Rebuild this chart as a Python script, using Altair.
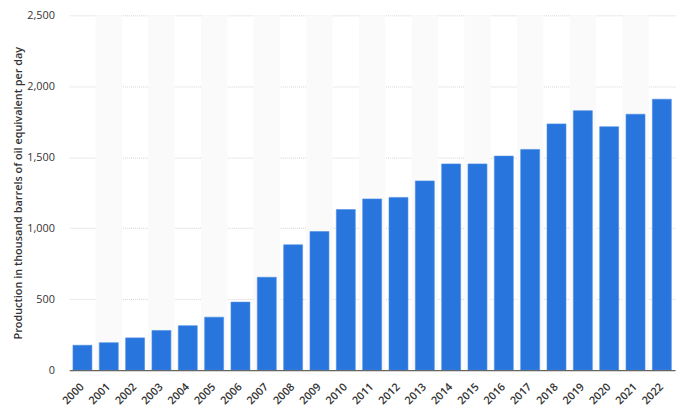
import altair as alt
import pandas as pd

years = [str(y) for y in range(2000, 2023)]
values = [175, 193, 227, 279, 313, 373, 479, 654, 883, 976, 1131, 1206, 1217,
          1333, 1453, 1453, 1508, 1555, 1735, 1828, 1715, 1803, 1909]

df = pd.DataFrame({"year": years, "value": values})
stripes = pd.DataFrame({"year": years[1::2]})

FONT = "Open Sans"
H = 359

xscale = alt.Scale(domain=years, paddingInner=0, paddingOuter=0)
yscale = alt.Scale(domain=[0, 2500], nice=False)

bg = alt.Chart(stripes).mark_rect(color="#fafafa").encode(
    x=alt.X("year:N", scale=xscale),
    y=alt.value(0),
    y2=alt.value(H),
)

bars = alt.Chart(df).mark_bar(
    color="#2876dd",
    stroke="#4a8ce6",
    strokeWidth=0.6,
    width=alt.RelativeBandSize(0.72),
).encode(
    x=alt.X(
        "year:N",
        scale=xscale,
        title=None,
        axis=alt.Axis(
            labelAngle=-45,
            labelAlign="right",
            labelBaseline="middle",
            labelFont=FONT,
            labelFontSize=11,
            labelFontWeight=600,
            labelColor="#333333",
            labelPadding=15,
            ticks=False,
            domain=True,
            domainColor="#666666",
            domainWidth=1.2,
            grid=False,
        ),
    ),
    y=alt.Y(
        "value:Q",
        scale=yscale,
        title="Production in thousand barrels of oil equivalent per day",
        axis=alt.Axis(
            values=[0, 500, 1000, 1500, 2000, 2500],
            format=",d",
            labelFont=FONT,
            labelFontSize=11,
            labelColor="#333333",
            labelPadding=15,
            ticks=False,
            domain=False,
            grid=True,
            gridColor="#d4d4d4",
            gridDash=[1, 1],
            gridWidth=1,
            titleFont=FONT,
            titleFontSize=11,
            titleFontWeight=600,
            titleColor="#333333",
            titleX=-46,
            titleY=H / 2,
        ),
    ),
)

chart = alt.layer(bg, bars).properties(
    width=613,
    height=H,
    autosize=alt.AutoSizeParams(type="none"),
    padding={"left": 62, "top": 5, "right": 2, "bottom": 40},
).configure_view(stroke=None)

chart.save("out.html", embed_options={"renderer": "svg", "actions": False})
